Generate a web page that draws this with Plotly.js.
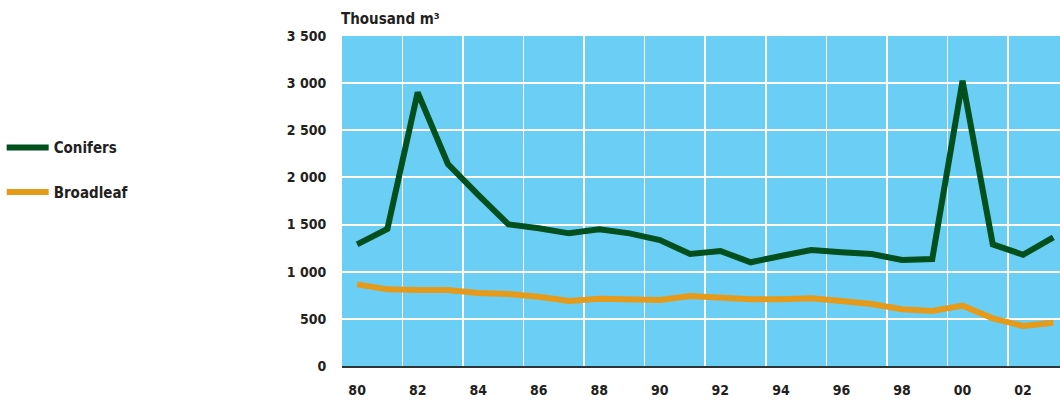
<!DOCTYPE html>
<html>
<head>
<meta charset="utf-8">
<script src="https://cdn.plot.ly/plotly-3.0.1.min.js"></script>
<style>html,body{margin:0;padding:0;background:#fff;}#chart{width:1060px;height:403px;}</style>
</head>
<body>
<div id="chart"></div>
<script>
const years = [1980,1981,1982,1983,1984,1985,1986,1987,1988,1989,1990,1991,1992,1993,1994,1995,1996,1997,1998,1999,2000,2001,2002,2003];
const conifers = [1290,1453,2902,2142,1815,1502,1460,1407,1450,1407,1336,1188,1220,1100,1167,1230,1206,1188,1124,1135,3026,1290,1180,1365];
const broadleaf = [866,813,806,806,775,764,735,689,714,714,700,742,718,707,707,718,689,657,601,583,640,506,424,459];
const xTickVals = [1980,1982,1984,1986,1988,1990,1992,1994,1996,1998,2000,2002];
const xTickText = ["80","82","84","86","88","90","92","94","96","98","00","02"];
const xGridVals = [1981.5,1983.5,1985.5,1987.5,1989.5,1991.5,1993.5,1995.5,1997.5,1999.5,2001.5];
const yTickVals = [0,500,1000,1500,2000,2500,3000,3500];
const yTickText = ["0","500","1 000","1 500","2 000","2 500","3 000","3 500"];
const unitLabel = "Thousand m³";

const FONT = '"DejaVu Sans Condensed", "Liberation Sans Narrow", "DejaVu Sans", sans-serif';
const TXT = '#231f20';

const traces = [
  {x: years, y: conifers, name: 'Conifers', type: 'scatter', mode: 'lines', legendgroup: 'a',
   line: {color: '#00501e', width: 6}},
  {x: years, y: broadleaf, name: 'Broadleaf', type: 'scatter', mode: 'lines', legendgroup: 'b',
   line: {color: '#e59a1a', width: 6}}
];

const layout = {
  width: 1060, height: 403,
  margin: {l: 342, r: 0, t: 36, b: 37, pad: 0},
  paper_bgcolor: '#ffffff',
  plot_bgcolor: '#6bcef5',
  font: {family: FONT, size: 14, color: TXT, weight: 'bold'},
  showlegend: true,
  legend: {x: -0.474, xanchor: 'left', y: 0.711, yanchor: 'top', tracegroupgap: 22,
           font: {family: FONT, size: 15, color: TXT, weight: 'bold'}, bgcolor: 'rgba(0,0,0,0)',
           itemwidth: 42},
  xaxis: {
    range: [1979.5, 2003.22], tickmode: 'array', tickvals: xTickVals, ticktext: xTickText,
    showgrid: false, zeroline: false, showline: true, linecolor: '#2d3436', linewidth: 2,
    ticks: 'outside', ticklen: 10, tickcolor: 'rgba(0,0,0,0)',
    tickfont: {family: FONT, size: 14, color: TXT, weight: 'bold'},
    minor: {tickmode: 'array', tickvals: xGridVals, showgrid: true, gridcolor: '#ffffff', gridwidth: 1.5, ticks: ''},
    fixedrange: true
  },
  yaxis: {
    range: [0, 3500], tickmode: 'array', tickvals: yTickVals, ticktext: yTickText,
    showgrid: true, gridcolor: '#ffffff', gridwidth: 2, zeroline: false, showline: false,
    ticks: 'outside', ticklen: 12, tickcolor: 'rgba(0,0,0,0)',
    tickfont: {family: FONT, size: 14, color: TXT, weight: 'bold'},
    fixedrange: true
  },
  annotations: [{
    text: unitLabel, xref: 'paper', yref: 'paper', x: 0, y: 1, xanchor: 'left', yanchor: 'bottom',
    xshift: -3, yshift: 6, showarrow: false, font: {family: FONT, size: 15, color: TXT, weight: 'bold'}
  }]
};

Plotly.newPlot('chart', traces, layout, {displayModeBar: false, staticPlot: true});
</script>
</body>
</html>
